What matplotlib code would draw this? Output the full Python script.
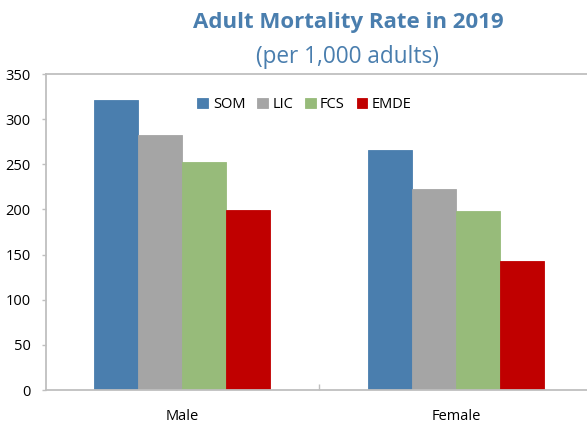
import matplotlib
matplotlib.use("Agg")
import matplotlib.pyplot as plt
import numpy as np

plt.rcParams['font.family'] = ['Open Sans', 'DejaVu Sans']

categories = ["Male", "Female"]
series = ["SOM", "LIC", "FCS", "EMDE"]
values = {
    "SOM": [321, 266],
    "LIC": [282, 223],
    "FCS": [252, 198],
    "EMDE": [199, 143],
}
colors = ["#4a7eae", "#a5a5a5", "#97bb7a", "#c00000"]
yticks = [0, 50, 100, 150, 200, 250, 300, 350]

fig = plt.figure(figsize=(5.87, 4.25), dpi=100)
ax = fig.add_axes([46/587, 35/425, 541/587, 316/425])

x = np.arange(len(categories))
w = 0.1606
for i, (s, c) in enumerate(zip(series, colors)):
    ax.bar(x + (i - 1.5) * w, values[s], width=w, color=c, label=s,
           edgecolor=c, linewidth=0.6)

ax.set_xlim(-0.496, 1.478)
ax.set_ylim(0, 350)
ax.set_yticks(yticks)
ax.set_xticks(x)
ax.set_xticklabels(categories, fontsize=10.5)
ax.set_xticks([0.5], minor=True)
ax.tick_params(axis='x', which='major', length=0, pad=14)
ax.tick_params(axis='x', which='minor', direction='in', length=4, color='#bfbfbf', width=1)
ax.tick_params(axis='y', length=3, color='#bfbfbf', width=1, labelsize=10.5, pad=8)
for sp in ['left', 'bottom', 'top']:
    ax.spines[sp].set_color('#bfbfbf')
    ax.spines[sp].set_linewidth(1.3)
ax.spines['right'].set_visible(False)

ax.legend(loc='center', bbox_to_anchor=(0.478, 0.903), ncol=4, frameon=False,
          fontsize=10.5, handlelength=0.75, handleheight=0.75, handletextpad=0.3,
          columnspacing=0.8)

fig.text(348/587, 1 - 28/425, "Adult Mortality Rate in 2019", ha='center', va='baseline',
         fontsize=16, fontweight='bold', color='#4a7eae')
fig.text(347/587, 1 - 63/425, "(per 1,000 adults)", ha='center', va='baseline',
         fontsize=16.3, color='#4a7eae')

fig.savefig("out.png", dpi=100)
